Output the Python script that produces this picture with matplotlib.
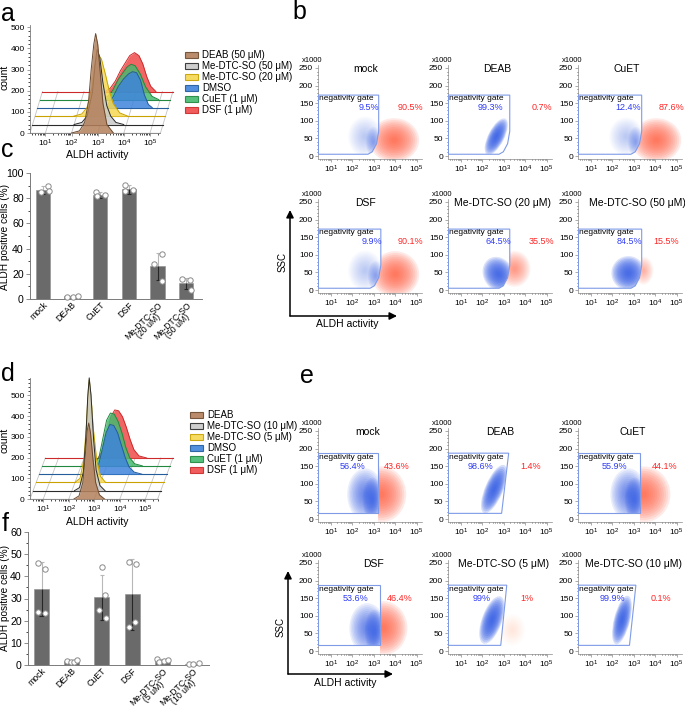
import numpy as np
import matplotlib
matplotlib.use('Agg')
import matplotlib.pyplot as plt
from matplotlib.patches import Ellipse, Polygon, Rectangle
from matplotlib import transforms

plt.rcParams['font.family'] = ['Liberation Sans', 'DejaVu Sans']
plt.rcParams['mathtext.fontset'] = 'custom'
plt.rcParams['mathtext.rm'] = 'Liberation Sans'
plt.rcParams['mathtext.it'] = 'Liberation Sans:italic'

W, H = 685, 713
fig = plt.figure(figsize=(W / 100, H / 100), dpi=100)

# ---------------- data ----------------
# panel a: ALDH histograms, x = log10(ALDH activity), y = count above own baseline
a_labels = ['DEAB (50 μM)', 'Me-DTC-SO (50 μM)', 'Me-DTC-SO (20 μM)', 'DMSO', 'CuET (1 μM)', 'DSF (1 μM)']
a_base = [0, 40, 80, 120, 158, 196]
a_x = [
    [2.0, 2.3, 2.5, 2.65, 2.75, 2.85, 2.92, 3.0, 3.1, 3.2, 3.35, 3.6],
    [2.0, 2.3, 2.5, 2.7, 2.8, 2.88, 2.98, 3.1, 3.25, 3.4, 3.6, 3.9],
    [1.9, 2.2, 2.4, 2.6, 2.72, 2.82, 2.95, 3.1, 3.25, 3.4, 3.65, 3.95],
    [2.9, 3.1, 3.3, 3.5, 3.7, 3.9, 4.05, 4.2, 4.35, 4.5, 4.65, 4.8],
    [2.8, 3.0, 3.2, 3.4, 3.6, 3.75, 3.9, 4.05, 4.25, 4.45, 4.7, 4.95],
    [2.8, 3.0, 3.2, 3.4, 3.6, 3.75, 3.93, 4.1, 4.25, 4.4, 4.55, 4.75],
]
a_y = [
    [0, 10, 50, 150, 300, 420, 470, 420, 280, 140, 40, 0],
    [0, 10, 40, 150, 280, 355, 320, 200, 90, 40, 10, 0],
    [0, 10, 40, 140, 250, 291, 270, 200, 120, 60, 15, 0],
    [0, 15, 50, 100, 135, 160, 170, 165, 130, 60, 15, 0],
    [0, 15, 45, 95, 130, 155, 167, 160, 120, 60, 15, 0],
    [0, 15, 50, 100, 140, 170, 184, 170, 130, 70, 25, 0],
]

# panel d
d_labels = ['DEAB', 'Me-DTC-SO (10 μM)', 'Me-DTC-SO (5 μM)', 'DMSO', 'CuET (1 μM)', 'DSF (1 μM)']
d_base = [0, 40, 80, 120, 160, 198]
d_x = [
    [2.2, 2.4, 2.55, 2.65, 2.72, 2.78, 2.85, 2.95, 3.05, 3.2, 3.4],
    [2.1, 2.3, 2.45, 2.55, 2.62, 2.68, 2.75, 2.85, 2.95, 3.1, 3.3],
    [2.0, 2.2, 2.35, 2.45, 2.52, 2.56, 2.62, 2.72, 2.85, 3.0, 3.2],
    [2.6, 2.8, 2.95, 3.1, 3.25, 3.4, 3.55, 3.7, 3.85, 4.0, 4.2, 4.5],
    [2.5, 2.7, 2.85, 3.0, 3.15, 3.3, 3.45, 3.6, 3.75, 3.9, 4.1, 4.4],
    [2.55, 2.75, 2.9, 3.05, 3.2, 3.35, 3.5, 3.65, 3.8, 3.95, 4.15, 4.45],
]
d_y = [
    [0, 15, 80, 220, 330, 367, 320, 190, 80, 20, 0],
    [0, 15, 90, 260, 450, 545, 460, 250, 100, 25, 0],
    [0, 20, 110, 280, 440, 495, 430, 260, 110, 30, 0],
    [0, 40, 120, 200, 240, 235, 200, 140, 80, 35, 10, 0],
    [0, 40, 130, 220, 255, 250, 215, 160, 90, 40, 10, 0],
    [0, 40, 120, 200, 232, 228, 200, 150, 90, 40, 10, 0],
]

hist_face = ['#b3805b', '#c9c9c9', '#f6d752', '#3f84dc', '#45b96e', '#f04a4a']
hist_edge = ['#6b4a30', '#2b2b2b', '#c9a200', '#245c9c', '#22883f', '#cc2a2a']

# panel c: ALDH positive cells (%)
c_groups = ['mock', 'DEAB', 'CuET', 'DSF', 'Me-DTC-SO\n(20 uM)', 'Me-DTC-SO\n(50 uM)']
c_mean = [86.5, 2.0, 82.5, 87.0, 26.0, 12.5]
c_sd = [3.0, 0.5, 2.5, 3.5, 10.8, 4.2]
c_points = [[85, 90, 85.5], [1.3, 1.8, 2.2], [85, 82, 82.5], [90.5, 86, 86.5], [28, 36, 14], [15.6, 15, 7.5]]
c_pts_dx = [[-0.08, 0.17, 0.21], [-0.17, 0.06, 0.23], [-0.15, -0.13, 0.17],
            [-0.13, -0.13, 0.14], [-0.12, 0.14, 0.14], [-0.14, 0.14, 0.15]]

# panel f
f_groups = ['mock', 'DEAB', 'CuET', 'DSF', 'Me-DTC-SO\n(5 uM)', 'Me-DTC-SO\n(10 uM)']
f_mean = [34.2, 1.7, 30.5, 32.0, 2.0, 0.45]
f_sd = [12.2, 0.3, 10.3, 16.0, 0.6, 0.25]
f_points = [[46.0, 43.5, 23.9, 23.6], [1.8, 1.35, 1.5, 2.1], [44.1, 31.8, 25.0, 21.0],
            [46.5, 45.6, 17.1, 19.4], [2.85, 1.5, 1.8, 2.1], [0.3, 0.3, 0.75]]
f_pts_dx = [[-0.13, 0.11, -0.11, 0.11], [-0.17, -0.03, 0.09, 0.17], [0.0, 0.09, -0.11, 0.12],
            [-0.11, 0.12, -0.11, 0.09], [-0.16, -0.11, 0.06, 0.18], [-0.11, 0.02, 0.21]]

# panels b / e: flow cytometry plots
b_titles = ['mock', 'DEAB', 'CuET', 'DSF', 'Me-DTC-SO (20 μM)', 'Me-DTC-SO (50 μM)']
b_neg = ['9.5%', '99.3%', '12.4%', '9.9%', '64.5%', '84.5%']
b_pos = ['90.5%', '0.7%', '87.6%', '90.1%', '35.5%', '15.5%']
b_gate_right = [3.23, 3.28, 3.37, 3.33, 3.28, 3.37]
# clouds: (gate side, centre log10 x, centre y, width px, height px, angle, density)
b_clouds = [
    [('neg', 2.6, 55, 34, 40, 0, 0.12), ('neg', 3.0, 40, 16, 30, 0, 0.2), ('pos', 3.95, 45, 50, 44, 0, 0.4)],
    [('neg', 2.65, 55, 40, 16, 63, 0.6)],
    [('neg', 2.65, 55, 34, 38, 0, 0.12), ('neg', 3.1, 40, 16, 30, 0, 0.2), ('pos', 4.05, 45, 50, 44, 0, 0.4)],
    [('neg', 2.6, 55, 34, 40, 0, 0.12), ('neg', 3.1, 40, 16, 30, 0, 0.2), ('pos', 4.0, 45, 48, 46, 0, 0.4)],
    [('neg', 2.75, 45, 30, 36, 30, 0.55), ('pos', 3.5, 60, 32, 36, 0, 0.25)],
    [('neg', 2.75, 48, 34, 34, 30, 0.55), ('pos', 3.45, 55, 20, 28, 0, 0.18)],
]

e_titles = ['mock', 'DEAB', 'CuET', 'DSF', 'Me-DTC-SO (5 μM)', 'Me-DTC-SO (10 μM)']
e_neg = ['56.4%', '98.6%', '55.9%', '53.6%', '99%', '99.9%']
e_pos = ['43.6%', '1.4%', '44.1%', '46.4%', '1%', '0.1%']
e_gate_top_right = [3.19, 3.23, 3.28, 3.28, 3.14, 3.1]
e_gate_bot_right = [3.19, 2.9, 3.28, 3.28, 2.86, 2.8]
e_clouds = [
    [('neg', 2.6, 70, 36, 52, 0, 0.35), ('neg', 2.95, 55, 20, 44, 0, 0.4), ('pos', 3.35, 70, 50, 56, 0, 0.4)],
    [('neg', 2.55, 85, 52, 18, 67, 0.6)],
    [('neg', 2.75, 70, 36, 52, 0, 0.35), ('neg', 3.05, 55, 20, 44, 0, 0.4), ('pos', 3.45, 70, 54, 56, 0, 0.4)],
    [('neg', 2.7, 65, 36, 50, 0, 0.35), ('neg', 3.05, 55, 20, 44, 0, 0.4), ('pos', 3.45, 65, 48, 54, 0, 0.4)],
    [('neg', 2.45, 88, 50, 20, 70, 0.6), ('pos', 3.4, 60, 26, 32, 0, 0.05)],
    [('neg', 2.45, 88, 50, 16, 76, 0.6)],
]

# ---------------- layout helpers ----------------
def px_axes(left, top, width, height):
    return fig.add_axes([left / W, 1 - (top + height) / H, width / W, height / H])

minor_log = [n + np.log10(m) for n in range(0, 6) for m in range(2, 10)]
decades = [1, 2, 3, 4, 5]
decade_labels = [f'$10^{{{n}}}$' for n in decades]
AX_COL = '#7a7a7a'
cloud_scales = np.linspace(1.0, 0.12, 12)


def ridge(ax, xs, ys, base, dx, xfront, ytop, yticks):
    n = len(base)
    top = base[-1]
    for xv in [xfront[0]] + decades + [xfront[1]]:
        ax.plot([xv, xv + (n - 1) * dx], [0, top], color='#c4c4c4', lw=0.6, zorder=1)
    for k in range(n - 1, -1, -1):
        z = 2 + (n - k) * 2
        x = np.array(xs[k]) + k * dx
        y = np.array(ys[k]) + base[k]
        ax.plot([xfront[0] + k * dx, xfront[1] + k * dx], [base[k], base[k]],
                color=hist_edge[k], lw=0.8, zorder=z)
        ax.fill_between(x, base[k], y, color=hist_face[k], alpha=0.85, lw=0, zorder=z)
        ax.plot(x, y, color=hist_edge[k], lw=0.7, zorder=z + 1)
    ax.set_xlim(xfront[0], xfront[1] + (n - 1) * dx + 0.08)
    ax.set_ylim(0, ytop)
    ax.set_xticks(decades)
    ax.set_xticklabels(decade_labels)
    ax.set_xticks([v for v in minor_log if xfront[0] < v < xfront[1]], minor=True)
    ax.set_yticks(yticks)
    ax.set_yticks(np.arange(0, ytop, 20), minor=True)
    for s in ['top', 'right']:
        ax.spines[s].set_visible(False)
    ax.spines['bottom'].set_bounds(xfront[0], xfront[1])
    ax.spines['left'].set_bounds(0, ytop - 8)
    for s in ['left', 'bottom']:
        ax.spines[s].set_linewidth(0.6)
        ax.spines[s].set_color(AX_COL)
    ax.tick_params(labelsize=6, length=2.5, width=0.5, color=AX_COL, pad=1.2)
    ax.tick_params(which='minor', length=1.2, width=0.5)


def legend_box(ov, x0, y0, labels):
    for i, lab in enumerate(labels):
        yc = y0 + i * 11
        ov.add_patch(Rectangle((x0, yc - 3.3), 13, 6.6, facecolor=hist_face[i],
                               edgecolor=hist_edge[i], lw=0.8, alpha=0.9))
        ov.text(x0 + 17, yc, lab, fontsize=7, va='center', ha='left')


def bars(ax, names, mean, sd, pts, pts_dx, ytop, ystep):
    x = np.arange(len(names))
    ax.bar(x, mean, width=0.5, color='#6a6a6a', edgecolor='#8e8e8e', lw=0.4, zorder=2)
    for i in range(len(names)):
        hi = mean[i] + sd[i]
        lo = max(mean[i] - sd[i], 0)
        ax.vlines(x[i], mean[i], hi, color='#b8b8b8', lw=0.8, zorder=3)
        ax.hlines(hi, x[i] - 0.07, x[i] + 0.07, color='#b8b8b8', lw=0.8, zorder=3)
        ax.vlines(x[i], lo, mean[i], color='#262626', lw=0.8, zorder=3)
        ax.hlines(lo, x[i] - 0.07, x[i] + 0.07, color='#262626', lw=0.8, zorder=3)
        ax.scatter(x[i] + np.array(pts_dx[i]), pts[i], s=15, facecolor='white',
                   edgecolor='#8a8a8a', lw=0.7, zorder=4, clip_on=False)
    ax.set_xlim(-0.45, len(names) - 0.45)
    ax.set_ylim(0, ytop)
    ax.set_xticks(x)
    ax.set_xticklabels(names, rotation=45, ha='right', rotation_mode='anchor', fontsize=6.3,
                       linespacing=0.8, multialignment='center')
    ax.set_yticks(np.arange(0, ytop + 1, ystep))
    ax.set_yticks(np.arange(0, ytop + 1, ystep / 2), minor=True)
    for s in ['top', 'right']:
        ax.spines[s].set_visible(False)
    for s in ['left', 'bottom']:
        ax.spines[s].set_linewidth(0.7)
        ax.spines[s].set_color(AX_COL)
    ax.tick_params(axis='y', labelsize=7.6, length=3, width=0.6, color=AX_COL, pad=1.5)
    ax.tick_params(axis='y', which='minor', length=1.8, width=0.5)
    ax.tick_params(axis='x', length=0, pad=1)


def flow(ax, title, tx, neg, negx, pos, posx, gate, outside, clouds, ytext, ypct):
    gate_clip = Polygon(gate, closed=True, transform=ax.transData)
    out_clip = Polygon(outside, closed=True, transform=ax.transData)
    for side, cx, cy, w, h, ang, dens in clouds:
        color = '#3a62e6' if side == 'neg' else '#ff5a3c'
        a = 1 - (1 - dens) ** (1 / 4)
        for s in cloud_scales:
            e = Ellipse((0, 0), w * s / 100, h * s / 100, angle=ang, facecolor=color,
                        edgecolor='none', alpha=a,
                        transform=fig.dpi_scale_trans + transforms.ScaledTranslation(cx, cy, ax.transData))
            e.set_clip_path(gate_clip if side == 'neg' else out_clip)
            ax.add_patch(e)
    ax.add_patch(Polygon(gate, closed=True, fill=False, edgecolor='#7f9be8', lw=0.8, zorder=5))
    ax.text(tx, 248, title, fontsize=7.5, ha='center', va='center')
    ax.text(0.44, ytext, 'negativity gate', fontsize=6, ha='left', va='center', zorder=6)
    ax.text(negx, ypct, neg, fontsize=6.5, ha='center', va='center', color='#2f3cf5', zorder=6)
    ax.text(posx, ypct, pos, fontsize=6.5, ha='center', va='center', color='#ff2424', zorder=6)
    ax.text(-0.15, 1.01, 'x1000', transform=ax.transAxes, fontsize=5.5, ha='left', va='bottom')
    ax.set_xlim(0.4, 5.25)
    ax.set_ylim(-8.5, 258.5)
    ax.set_xticks(decades)
    ax.set_xticklabels(decade_labels)
    ax.set_xticks([v for v in minor_log if 0.4 < v < 5.25], minor=True)
    ax.set_yticks([0, 50, 100, 150, 200, 250])
    ax.set_yticks(np.arange(0, 251, 10), minor=True)
    for s in ['top', 'right']:
        ax.spines[s].set_visible(False)
    for s in ['left', 'bottom']:
        ax.spines[s].set_linewidth(0.5)
        ax.spines[s].set_color('#8a8a8a')
    ax.tick_params(labelsize=6, length=2, width=0.5, color='#8a8a8a', pad=1.5)
    ax.tick_params(which='minor', length=1, width=0.4)


def xfrac(f):
    return 0.4 + f * (5.25 - 0.4)


# ---------------- panels a and d ----------------
ax_a = px_axes(30, 23, 145, 110)
ridge(ax_a, a_x, a_y, a_base, 0.095, (0.41, 5.4), 520, [0, 100, 200, 300, 400, 500])
ax_d = px_axes(30, 376, 145, 123)
ridge(ax_d, d_x, d_y, d_base, 0.12, (0.48, 5.48), 594, [0, 100, 200, 300, 400, 500])

# ---------------- panels c and f ----------------
ax_c = px_axes(30, 173, 172, 126)
bars(ax_c, c_groups, c_mean, c_sd, c_points, c_pts_dx, 100, 20)
ax_f = px_axes(28, 532, 181, 133)
bars(ax_f, f_groups, f_mean, f_sd, f_points, f_pts_dx, 60, 10)

# ---------------- panels b and e ----------------
col_left = [318, 448, 578]
b_title_x = [0.46, 0.47, 0.47, 0.46, 0.52, 0.57]
b_neg_x = [0.49, 0.41, 0.48, 0.52, 0.48, 0.49]
b_pos_x = [0.89, 0.90, 0.90, 0.89, 0.90, 0.85]
e_title_x = [0.48, 0.50, 0.53, 0.53, 0.53, 0.53]
e_neg_x = [0.33, 0.31, 0.35, 0.36, 0.32, 0.33]
e_pos_x = [0.76, 0.79, 0.83, 0.79, 0.76, 0.80]

for i in range(6):
    ax = px_axes(col_left[i % 3], [65, 199][i // 3], 104, 94)
    r = b_gate_right[i]
    edge = [(r, 173), (r, 70), (r - 0.1, 35), (r - 0.3, 12), (r - 0.5, 5)]
    gate = [(0.42, 5), (0.42, 173)] + edge
    outside = [(r, 258.5)] + edge + [(r - 0.5, -8.5), (5.25, -8.5), (5.25, 258.5)]
    flow(ax, b_titles[i], xfrac(b_title_x[i]), b_neg[i], xfrac(b_neg_x[i]), b_pos[i],
         xfrac(b_pos_x[i]), gate, outside, b_clouds[i], 162, 139)

for i in range(6):
    ax = px_axes(col_left[i % 3], [428, 560][i // 3], 104, 94)
    rt, rb = e_gate_top_right[i], e_gate_bot_right[i]
    gate = [(0.42, 16), (0.42, 187), (rt, 187), (rb, 16)]
    outside = [(rt, 258.5), (rt, 187), (rb, 16), (rb, -8.5), (5.25, -8.5), (5.25, 258.5)]
    flow(ax, e_titles[i], xfrac(e_title_x[i]), e_neg[i], xfrac(e_neg_x[i]), e_pos[i],
         xfrac(e_pos_x[i]), gate, outside, e_clouds[i], 176, 148)

# ---------------- overlay: letters, labels, legends, arrows ----------------
ov = fig.add_axes([0, 0, 1, 1])
ov.set_xlim(0, W)
ov.set_ylim(H, 0)
ov.axis('off')

for letter, x, y in [('a', 1, 21), ('b', 292, 19), ('c', 1, 157), ('d', 1, 381), ('e', 300, 383), ('f', 2, 531)]:
    ov.text(x, y, letter, fontsize=18, ha='left', va='baseline')

ov.text(97, 155, 'ALDH activity', fontsize=7.5, ha='center', va='center')
ov.text(97, 522, 'ALDH activity', fontsize=7.5, ha='center', va='center')
ov.text(5, 77, 'count', fontsize=7.5, rotation=90, ha='center', va='center')
ov.text(5, 440, 'count', fontsize=7.5, rotation=90, ha='center', va='center')
ov.text(5, 237, 'ALDH positive cells (%)', fontsize=7.3, rotation=90, ha='center', va='center')
ov.text(5, 598, 'ALDH positive cells (%)', fontsize=7.3, rotation=90, ha='center', va='center')

legend_box(ov, 185, 55, a_labels)
legend_box(ov, 190, 415, d_labels)

for (x0, y0, ytop, xr, ssc_y, lab_x, lab_y) in [(290, 316, 210, 397, 262, 347, 324),
                                                 (288, 674, 571, 393, 627, 345, 683)]:
    arrow = dict(arrowstyle='-|>', lw=1.1, color='black', mutation_scale=11, shrinkA=0, shrinkB=0)
    ov.annotate('', xy=(x0, ytop), xytext=(x0, y0), arrowprops=arrow)
    ov.annotate('', xy=(xr, y0), xytext=(x0, y0), arrowprops=arrow)
    ov.text(x0 - 7, ssc_y, 'SSC', fontsize=7, rotation=90, ha='center', va='center')
    ov.text(lab_x, lab_y, 'ALDH activity', fontsize=7.5, ha='center', va='center')

fig.savefig('out.png', dpi=100)
